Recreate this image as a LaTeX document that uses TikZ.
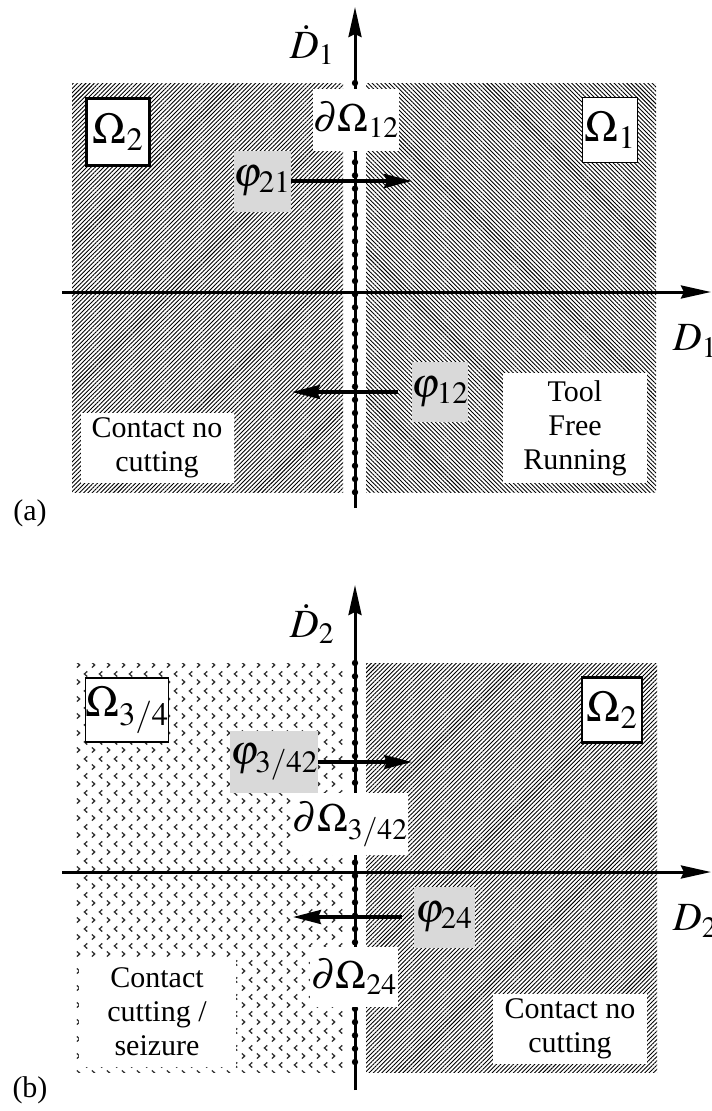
\documentclass[tikz,border=0pt]{standalone}
\usepackage{mathptmx}
\usepackage[no-math]{fontspec}
\setmainfont{Liberation Serif}
\usetikzlibrary{arrows.meta,patterns.meta}

\tikzdeclarepattern{
  name=chevrons,
  bounding box={(0pt,0pt) and (15pt,17pt)},
  tile size={(15pt,17pt)},
  code={
    \draw[line width=1.4pt] (2pt,1.5pt) -- (5pt,4.2pt) -- (2pt,6.9pt);
    \draw[line width=1.4pt] (13pt,10pt) -- (10pt,12.7pt) -- (13pt,15.4pt);
  }
}

\tikzset{
  axis/.style={line width=3pt, -{Stealth[length=30pt,width=13pt,inset=3pt]}},
  flow/.style={line width=3.5pt, -{Stealth[length=28pt,width=14pt,inset=3pt]}},
  regbox/.style={draw, fill=white, inner sep=0pt, font=\fontsize{44}{48}\selectfont},
  bdlabel/.style={fill=white, inner sep=0pt, font=\fontsize{40}{44}\selectfont},
  maplabel/.style={fill=black!15, inner sep=0pt, font=\fontsize{42}{46}\selectfont},
  axlabel/.style={inner sep=0pt, font=\fontsize{40}{44}\selectfont},
  note/.style={fill=white, align=center, inner sep=0pt, font=\fontsize{30}{34}\selectfont},
  hatchne/.style={pattern={Lines[angle=45,distance=3pt,line width=0.9pt]}},
  hatchnw/.style={pattern={Lines[angle=-45,distance=3pt,line width=0.9pt]}},
  seize/.style={pattern=chevrons, pattern color=black!80},
}

\begin{document}
\begin{tikzpicture}[x=1pt,y=-1pt]
\useasboundingbox (0,0) rectangle (712,1111);

% (a) tool free running / contact
\fill[hatchne] (72,83) rectangle (343,492);
\fill[hatchnw] (366,83) rectangle (656,492);
\coordinate (xa0) at (62,292);
\coordinate (xa1) at (711,292);
\coordinate (ya0) at (355,508);
\coordinate (ya1) at (355,7);
\draw[axis] (xa0) -- (xa1);
\draw[axis] (ya0) -- (ya1);
\foreach \k in {0,...,31}
  \fill (355,{83+13.2*\k}) circle (3.2pt);

\node[regbox, line width=2.7pt, minimum width=63pt, minimum height=67pt] (om2a) at (118,132) {$\Omega_2$};
\node[regbox, line width=1.6pt, minimum width=55pt, minimum height=65pt] (om1) at (610,130) {$\Omega_1$};
\node[bdlabel, minimum width=83pt, minimum height=62pt] (do12) at (356,120) {$\partial\Omega_{12}$};
\node[maplabel, minimum width=57pt, minimum height=61pt] (p21) at (262,181) {$\varphi_{21}$};
\node[maplabel, minimum width=55pt, minimum height=60pt] (p12) at (440,392) {$\varphi_{12}$};
\node[note, minimum width=153pt, minimum height=70pt] (cnca) at (157,448) {Contact no\\cutting};
\node[note, minimum width=144pt, minimum height=110pt] (tfr) at (575,428) {Tool\\Free\\Running};
\node[axlabel] (dd1) at (312,45) {$\dot{D}_1$};
\node[axlabel] (d1) at (695,341) {$D_1$};
\node[note, fill=none] (laba) at (30,513) {(a)};

\coordinate (t21) at (412,181);
\coordinate (t12) at (292,392);
\draw[flow] (p21.east) -- (t21);
\draw[flow, shorten <=13pt] (p12.west) -- (t12);

% (b) contact cutting / seizure
\fill[seize] (75,663) rectangle (343,1072);
\fill[hatchne] (366,663) rectangle (657,1072);
\coordinate (xb0) at (62,872);
\coordinate (xb1) at (711,872);
\coordinate (yb0) at (355,1090);
\coordinate (yb1) at (355,585);
\draw[axis] (xb0) -- (xb1);
\draw[axis] (yb0) -- (yb1);
\foreach \k in {0,...,30}
  \fill (355,{663+13.3*\k}) circle (3.2pt);

\node[regbox, line width=1.6pt, minimum width=80pt, minimum height=64pt] (om34) at (127,710) {$\Omega_{3/4}$};
\node[regbox, line width=2.2pt, minimum width=60pt, minimum height=65pt] (om2b) at (612,710) {$\Omega_2$};
\node[bdlabel, minimum width=107pt, minimum height=62pt] (do342) at (350,824) {$\partial\Omega_{3/42}$};
\node[bdlabel, minimum width=88pt, minimum height=60pt] (do24) at (354,977) {$\partial\Omega_{24}$};
\node[maplabel, minimum width=81pt, minimum height=62pt] (p342) at (274,762) {$\varphi_{3/42}$};
\node[maplabel, minimum width=61pt, minimum height=61pt] (p24) at (444,917) {$\varphi_{24}$};
\node[note, minimum width=157pt, minimum height=109pt] (ccs) at (157,1012) {Contact\\cutting /\\seizure};
\node[note, minimum width=154pt, minimum height=70pt] (cncb) at (570,1029) {Contact no\\cutting};
\node[axlabel] (dd2) at (312,624) {$\dot{D}_2$};
\node[axlabel] (d2) at (695,921) {$D_2$};
\node[note, fill=none] (labb) at (30,1090) {(b)};

\coordinate (t342) at (412,762);
\coordinate (t24) at (293,917);
\draw[flow] (p342.east) -- (t342);
\draw[flow, shorten <=11pt] (p24.west) -- (t24);
\end{tikzpicture}
\end{document}
